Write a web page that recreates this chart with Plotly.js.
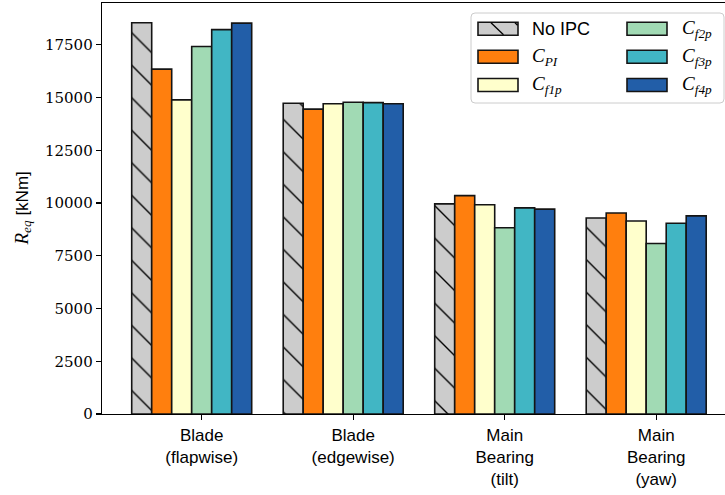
<!DOCTYPE html>
<html>
<head>
<meta charset="utf-8">
<script src="https://cdn.plot.ly/plotly-3.0.1.min.js"></script>
<style>html,body{margin:0;padding:0;background:#fff;overflow:hidden}</style>
</head>
<body>
<div id="chart" style="width:725px;height:495px"></div>
<script>
// ---- data ----
const categories = ['Blade<br>(flapwise)', 'Blade<br>(edgewise)', 'Main<br>Bearing<br>(tilt)', 'Main<br>Bearing<br>(yaw)'];
const seriesLabels = ['No IPC', '<i>C</i><sub><i>PI</i></sub>', '<i>C</i><sub><i>f1p</i></sub>', '<i>C</i><sub><i>f2p</i></sub>', '<i>C</i><sub><i>f3p</i></sub>', '<i>C</i><sub><i>f4p</i></sub>'];
const noIPC = [18550, 14730, 9960, 9290];
const cPI   = [16350, 14450, 10350, 9530];
const cF1p  = [14890, 14710, 9920, 9150];
const cF2p  = [17420, 14780, 8830, 8080];
const cF3p  = [18220, 14760, 9770, 9040];
const cF4p  = [18530, 14710, 9710, 9390];
const yTicks = [0, 2500, 5000, 7500, 10000, 12500, 15000, 17500];
const colors = ['#cccccc', '#ff7f0e', '#ffffcc', '#a1dab4', '#41b6c4', '#225ea8'];
const series = [noIPC, cPI, cF1p, cF2p, cF3p, cF4p];

// ---- geometry ----
const W = 725, H = 495;
const M = {l: 102, r: 0, t: 3, b: 81};
const PW = W - M.l - M.r, PH = H - M.t - M.b;
const barW = 0.132;
const px2x = px => (px - M.l) / PW;
const px2y = py => (H - M.b - py) / PH;

const traces = series.map((vals, k) => {
  const t = {
    type: 'bar',
    x: categories,
    y: vals,
    name: seriesLabels[k],
    width: barW,
    offset: (k - 3.5) * barW,
    marker: {color: colors[k], line: {color: '#141414', width: 1.6}},
    showlegend: false,
    hoverinfo: 'y'
  };
  if (k === 0) {
    t.marker.pattern = {shape: '\\', size: 23, solidity: 0.06, fgcolor: '#000000', bgcolor: '#cccccc', fillmode: 'replace'};
  }
  return t;
});

// ---- legend drawn from series labels/colors ----
const shapes = [];
const annotations = [];
function roundRect(x0, y0, x1, y1, r) {
  const X = px2x, Y = px2y;
  return 'M' + X(x0 + r) + ',' + Y(y0) +
    ' L' + X(x1 - r) + ',' + Y(y0) + ' Q' + X(x1) + ',' + Y(y0) + ' ' + X(x1) + ',' + Y(y0 + r) +
    ' L' + X(x1) + ',' + Y(y1 - r) + ' Q' + X(x1) + ',' + Y(y1) + ' ' + X(x1 - r) + ',' + Y(y1) +
    ' L' + X(x0 + r) + ',' + Y(y1) + ' Q' + X(x0) + ',' + Y(y1) + ' ' + X(x0) + ',' + Y(y1 - r) +
    ' L' + X(x0) + ',' + Y(y0 + r) + ' Q' + X(x0) + ',' + Y(y0) + ' ' + X(x0 + r) + ',' + Y(y0) + ' Z';
}
shapes.push({type: 'path', xref: 'paper', yref: 'paper', path: roundRect(471, 13, 724, 103, 4),
  fillcolor: 'rgba(255,255,255,0.8)', line: {color: '#cccccc', width: 1}, layer: 'above'});
const colX = [478, 627], textX = [530, 680], rowY = [28.7, 56.7, 85];
seriesLabels.forEach((lab, k) => {
  const c = Math.floor(k / 3), r = k % 3;
  const x0 = colX[c], x1 = colX[c] + 40, y0 = rowY[r] - 6.5, y1 = rowY[r] + 6.5;
  shapes.push({type: 'rect', xref: 'paper', yref: 'paper', x0: px2x(x0), x1: px2x(x1), y0: px2y(y1), y1: px2y(y0),
    fillcolor: colors[k], line: {color: '#141414', width: 1.6}, layer: 'above'});
  if (k === 0) {
    shapes.push({type: 'line', xref: 'paper', yref: 'paper', x0: px2x(491), y0: px2y(y0 + 0.5), x1: px2x(503.5), y1: px2y(y1 - 0.5),
      line: {color: '#000', width: 1.3}, layer: 'above'});
    shapes.push({type: 'line', xref: 'paper', yref: 'paper', x0: px2x(515), y0: px2y(y0 + 0.5), x1: px2x(517.5), y1: px2y(y0 + 3),
      line: {color: '#000', width: 1.3}, layer: 'above'});
  }
  annotations.push({xref: 'paper', yref: 'paper', x: px2x(textX[c]), y: px2y(rowY[r]), xanchor: 'left', yanchor: 'middle',
    text: lab, showarrow: false,
    font: k === 0 ? {family: 'Liberation Sans', size: 18, color: '#000'} : {family: 'Liberation Serif', size: 19, color: '#000'}});
});
// y-axis title
annotations.push({xref: 'paper', yref: 'paper', x: px2x(22), y: px2y(208.5), xanchor: 'center', yanchor: 'middle',
  textangle: -90, showarrow: false,
  text: '<span style="font-family:Liberation Serif;font-size:19px"><i>R</i><sub><i>eq</i></sub></span> [kNm]',
  font: {family: 'Liberation Sans', size: 17, color: '#000'}});

const layout = {
  width: W, height: H,
  margin: M,
  paper_bgcolor: '#ffffff', plot_bgcolor: '#ffffff',
  barmode: 'overlay',
  xaxis: {
    type: 'category',
    range: [-(201.7 - M.l) / 151.5, -(201.7 - M.l) / 151.5 + PW / 151.5],
    showgrid: false, zeroline: false,
    showline: true, mirror: true, linecolor: '#000', linewidth: 1.3,
    ticks: 'outside', ticklen: 5, tickwidth: 1.2, tickcolor: '#000',
    tickfont: {family: 'Liberation Sans', size: 17, color: '#000'},
    fixedrange: true
  },
  yaxis: {
    range: [0, 19483],
    tickvals: yTicks, ticktext: yTicks.map(String),
    showgrid: false, zeroline: false,
    showline: true, linecolor: '#000', linewidth: 1.3,
    ticks: 'outside', ticklen: 5, tickwidth: 1.2, tickcolor: '#000',
    tickfont: {family: 'DejaVu Serif', size: 15, color: '#000'},
    fixedrange: true
  },
  shapes: shapes,
  annotations: annotations,
  showlegend: false
};

Plotly.newPlot('chart', traces, layout, {displayModeBar: false, staticPlot: true});
</script>
</body>
</html>
